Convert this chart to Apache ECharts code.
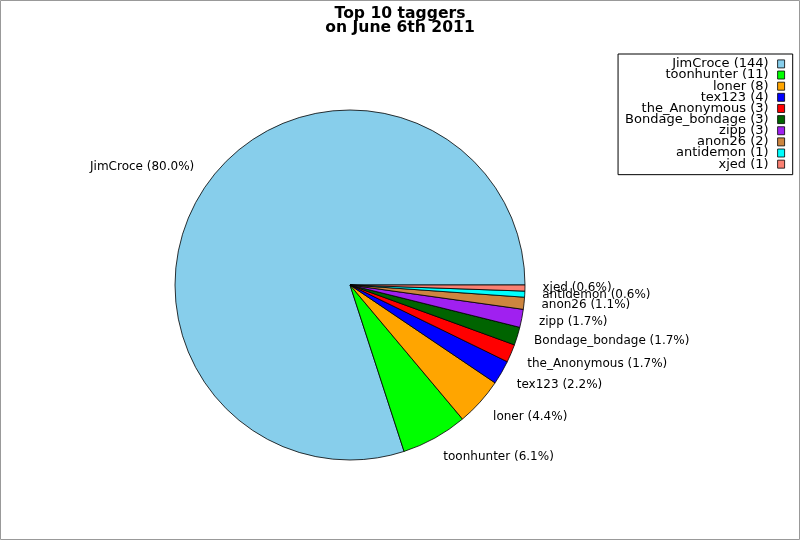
<!DOCTYPE html>
<html>
<head>
<meta charset="utf-8">
<script src="https://cdn.jsdelivr.net/npm/echarts@6/dist/echarts.min.js"></script>
<style>
html,body{margin:0;padding:0;background:#fff;}
#chart{width:800px;height:540px;}
</style>
</head>
<body>
<div id="chart"></div>
<script>
const names = ['JimCroce','toonhunter','loner','tex123','the_Anonymous','Bondage_bondage','zipp','anon26','antidemon','xjed'];
const counts = [144, 11, 8, 4, 3, 3, 3, 2, 1, 1];
const colors = ['#87ceeb','#00ff00','#ffa500','#0000ff','#ff0000','#006400','#a020f0','#cd853f','#00ffff','#fa8072'];
const titleLines = ['Top 10 taggers', 'on June 6th 2011'];

const total = counts.reduce((a, b) => a + b, 0);
const R = 175;
const CX = 350, CY = 285;

const chart = echarts.init(document.getElementById('chart'), null, {renderer: 'canvas'});
chart.setOption({
  animation: false,
  backgroundColor: '#fff',
  color: colors,
  title: {
    text: titleLines.join('\n'),
    left: 'center',
    top: 2,
    textStyle: {fontFamily: 'DejaVu Sans', fontWeight: 'bold', fontSize: 15.6, lineHeight: 14, color: '#000'}
  },
  legend: {
    orient: 'vertical',
    align: 'right',
    right: 7.3,
    top: 54,
    padding: [3.4, 7.7, 4, 7],
    borderColor: '#000',
    borderWidth: 1,
    backgroundColor: '#fff',
    itemWidth: 7,
    itemHeight: 8,
    itemGap: -1.86,
    icon: 'rect',
    itemStyle: {borderColor: '#000', borderWidth: 0.8},
    textStyle: {fontFamily: 'DejaVu Sans', fontSize: 13, color: '#000', padding: [0, 4, 0, 0]},
    formatter: function (n) { return n + ' (' + counts[names.indexOf(n)] + ')'; },
    data: names
  },
  graphic: [{
    type: 'rect',
    shape: {x: 0.5, y: 0.5, width: 799, height: 539},
    style: {fill: 'none', stroke: '#999', lineWidth: 1},
    silent: true,
    z: 100
  }],
  series: [{
    type: 'pie',
    center: [CX, CY],
    radius: R,
    startAngle: 0,
    clockwise: false,
    avoidLabelOverlap: false,
    minShowLabelAngle: 0,
    labelLayout: function (p) {
      const off = p.labelRect.y + p.labelRect.height / 2 - CY;
      if (Math.abs(off) < 65) return {hideOverlap: false};
      return {hideOverlap: false, dy: off > 0 ? 3.2 : -4.5};
    },
    itemStyle: {borderColor: '#000', borderWidth: 0.8},
    emphasis: {disabled: true},
    label: {
      show: true,
      position: 'outside',
      distanceToLabelLine: 0,
      fontFamily: 'DejaVu Sans',
      fontSize: 12,
      color: '#000',
      formatter: function (p) { return p.name + ' (' + (p.value / total * 100).toFixed(1) + '%)'; }
    },
    labelLine: {show: false, length: R * 0.1, length2: 0},
    data: names.map((n, i) => ({name: n, value: counts[i]}))
  }]
});
</script>
</body>
</html>
